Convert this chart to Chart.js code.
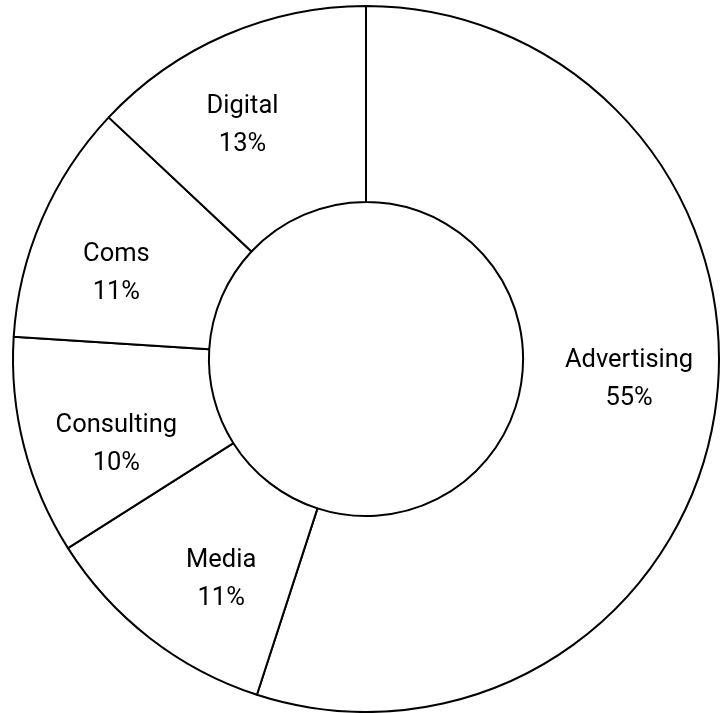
<!DOCTYPE html>
<html>
<head>
<meta charset="utf-8">
<script src="https://cdn.jsdelivr.net/npm/chart.js@4/dist/chart.umd.min.js"></script>
<style>
  html, body { margin: 0; padding: 0; background: #ffffff; }
  #wrap { width: 726px; height: 713px; position: relative; }
</style>
</head>
<body>
<div id="wrap"><canvas id="c"></canvas></div>
<script>
const categories = ['Advertising', 'Media', 'Consulting', 'Coms', 'Digital'];
const shareValues = [55, 11, 10, 11, 13];
const shareLabels = ['55%', '11%', '10%', '11%', '13%'];

const LABEL_ANGLE_SHIFT = -4.5 * Math.PI / 180;

const ringLabels = {
  id: 'ringLabels',
  afterDatasetsDraw(chart) {
    const ctx = chart.ctx;
    const meta = chart.getDatasetMeta(0);
    ctx.save();
    ctx.font = '25.5px Roboto, "Liberation Sans", sans-serif';
    ctx.fillStyle = '#000000';
    ctx.textAlign = 'center';
    ctx.textBaseline = 'middle';
    meta.data.forEach((arc, i) => {
      const p = arc.getProps(['x', 'y', 'startAngle', 'endAngle', 'innerRadius', 'outerRadius'], true);
      const mid = (p.startAngle + p.endAngle) / 2 + LABEL_ANGLE_SHIFT;
      const r = p.innerRadius + (p.outerRadius - p.innerRadius) * 0.545;
      const cx = p.x + Math.cos(mid) * r;
      const cy = p.y + Math.sin(mid) * r;
      ctx.fillText(categories[i], cx, cy - 19);
      ctx.fillText(shareLabels[i], cx, cy + 19);
    });
    ctx.restore();
  }
};

new Chart(document.getElementById('c'), {
  type: 'doughnut',
  data: {
    labels: categories,
    datasets: [{
      data: shareValues,
      backgroundColor: '#ffffff',
      borderColor: '#000000',
      borderWidth: 2,
      hoverOffset: 0
    }]
  },
  options: {
    responsive: true,
    maintainAspectRatio: false,
    animation: false,
    cutout: '44.5%',
    rotation: 0,
    layout: { padding: { left: 6, top: 5, right: 0, bottom: 0 } },
    plugins: {
      legend: { display: false },
      tooltip: { enabled: false }
    }
  },
  plugins: [ringLabels]
});
</script>
</body>
</html>
